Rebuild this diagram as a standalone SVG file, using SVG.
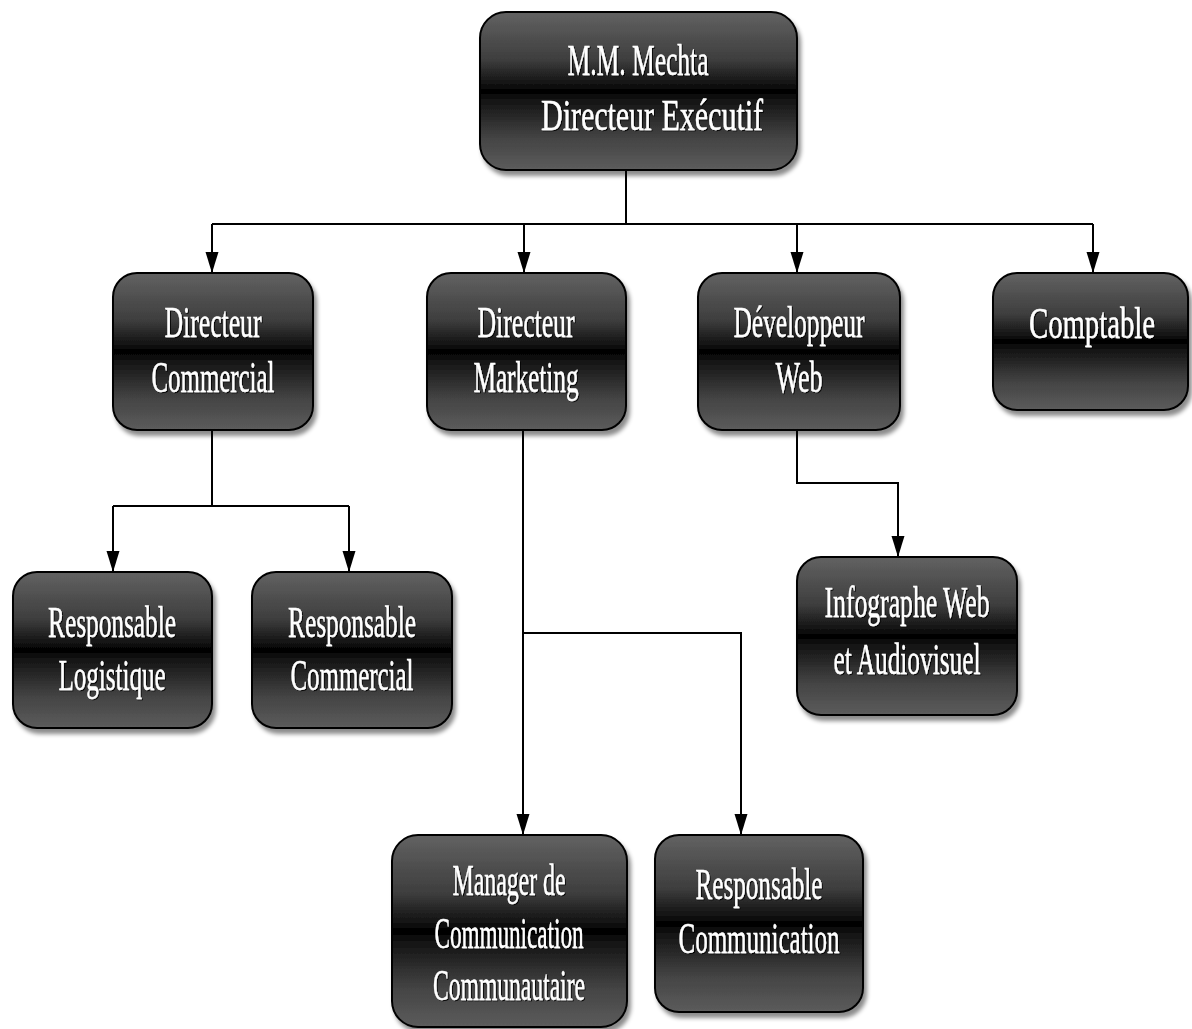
<svg xmlns="http://www.w3.org/2000/svg" width="1192" height="1029" viewBox="0 0 1192 1029">
<defs>
<linearGradient id="g" x1="0" y1="0" x2="0" y2="1">
<stop offset="0" stop-color="#626262"/>
<stop offset="0.3" stop-color="#3e3e3e"/>
<stop offset="0.46" stop-color="#111"/>
<stop offset="0.5" stop-color="#000"/>
<stop offset="0.56" stop-color="#141414"/>
<stop offset="0.8" stop-color="#444"/>
<stop offset="1" stop-color="#5c5c5c"/>
</linearGradient>
<filter id="sh" x="-10%" y="-10%" width="125%" height="125%">
<feDropShadow dx="3" dy="5" stdDeviation="2" flood-color="#000" flood-opacity="0.45"/>
</filter>
<filter id="ts" x="-5%" y="-20%" width="110%" height="140%">
<feDropShadow dx="1" dy="1" stdDeviation="0.6" flood-color="#000" flood-opacity="0.9"/>
</filter>
<marker id="arr" markerUnits="userSpaceOnUse" markerWidth="22" markerHeight="14" refX="21" refY="7" orient="auto">
<path d="M0,0.5 L21,7 L0,13.5 z" fill="#000"/>
</marker>
</defs>
<style>
.box{fill:url(#g);stroke:#000;stroke-width:2;filter:url(#sh)}
.t{font-family:"Liberation Serif","Times New Roman",serif;font-size:44px;fill:#fff;stroke:#fff;stroke-width:0.4;text-anchor:middle;filter:url(#ts)}
.c{fill:none;stroke:#000;stroke-width:2}
</style>
<rect width="1192" height="1029" fill="#fff"/>
<g id="connectors">
<path class="c" d="M626,170 V224"/>
<path class="c" d="M212,224 H1093"/>
<path class="c" d="M212,224 V273" marker-end="url(#arr)"/>
<path class="c" d="M524,224 V273" marker-end="url(#arr)"/>
<path class="c" d="M797,224 V273" marker-end="url(#arr)"/>
<path class="c" d="M1093,224 V273" marker-end="url(#arr)"/>
<path class="c" d="M212,430 V506"/>
<path class="c" d="M113,506 H349"/>
<path class="c" d="M113,506 V572" marker-end="url(#arr)"/>
<path class="c" d="M349,506 V572" marker-end="url(#arr)"/>
<path class="c" d="M523,430 V835" marker-end="url(#arr)"/>
<path class="c" d="M523,633 H741 V835" marker-end="url(#arr)"/>
<path class="c" d="M797,430 V483 H898 V557" marker-end="url(#arr)"/>
</g>
<g id="ceo">
<rect class="box" x="480" y="12" width="317" height="158" rx="26"/>
<text class="t" x="638" y="75" textLength="141" lengthAdjust="spacingAndGlyphs">M.M. Mechta</text>
<text class="t" x="652" y="130" textLength="222" lengthAdjust="spacingAndGlyphs">Directeur  Exécutif</text>
</g>
<g id="dir-commercial">
<rect class="box" x="113" y="273" width="200" height="157" rx="24"/>
<text class="t" x="213" y="337" textLength="97" lengthAdjust="spacingAndGlyphs">Directeur</text>
<text class="t" x="213" y="392" textLength="123" lengthAdjust="spacingAndGlyphs">Commercial</text>
</g>
<g id="dir-marketing">
<rect class="box" x="427" y="273" width="199" height="157" rx="24"/>
<text class="t" x="526" y="337" textLength="97" lengthAdjust="spacingAndGlyphs">Directeur</text>
<text class="t" x="526" y="392" textLength="105" lengthAdjust="spacingAndGlyphs">Marketing</text>
</g>
<g id="dev-web">
<rect class="box" x="698" y="273" width="202" height="157" rx="24"/>
<text class="t" x="799" y="337" textLength="131" lengthAdjust="spacingAndGlyphs">Développeur</text>
<text class="t" x="799" y="392" textLength="47" lengthAdjust="spacingAndGlyphs">Web</text>
</g>
<g id="comptable">
<rect class="box" x="993" y="273" width="195" height="137" rx="24"/>
<text class="t" x="1092" y="338" textLength="126" lengthAdjust="spacingAndGlyphs">Comptable</text>
</g>
<g id="resp-logistique">
<rect class="box" x="13" y="572" width="199" height="156" rx="24"/>
<text class="t" x="112" y="637" textLength="128" lengthAdjust="spacingAndGlyphs">Responsable</text>
<text class="t" x="112" y="690" textLength="107" lengthAdjust="spacingAndGlyphs">Logistique</text>
</g>
<g id="resp-commercial">
<rect class="box" x="252" y="572" width="200" height="156" rx="24"/>
<text class="t" x="352" y="637" textLength="128" lengthAdjust="spacingAndGlyphs">Responsable</text>
<text class="t" x="352" y="690" textLength="123" lengthAdjust="spacingAndGlyphs">Commercial</text>
</g>
<g id="infographe">
<rect class="box" x="797" y="557" width="220" height="158" rx="24"/>
<text class="t" x="907" y="617" textLength="165" lengthAdjust="spacingAndGlyphs">Infographe Web</text>
<text class="t" x="907" y="674" textLength="147" lengthAdjust="spacingAndGlyphs">et Audiovisuel</text>
</g>
<g id="manager-comm">
<rect class="box" x="392" y="835" width="235" height="192" rx="26"/>
<text class="t" x="509" y="895" textLength="113" lengthAdjust="spacingAndGlyphs">Manager de</text>
<text class="t" x="509" y="948" textLength="149" lengthAdjust="spacingAndGlyphs">Communication</text>
<text class="t" x="509" y="1000" textLength="152" lengthAdjust="spacingAndGlyphs">Communautaire</text>
</g>
<g id="resp-comm">
<rect class="box" x="655" y="835" width="208" height="177" rx="24"/>
<text class="t" x="759" y="899" textLength="127" lengthAdjust="spacingAndGlyphs">Responsable</text>
<text class="t" x="759" y="953" textLength="161" lengthAdjust="spacingAndGlyphs">Communication</text>
</g>
</svg>
